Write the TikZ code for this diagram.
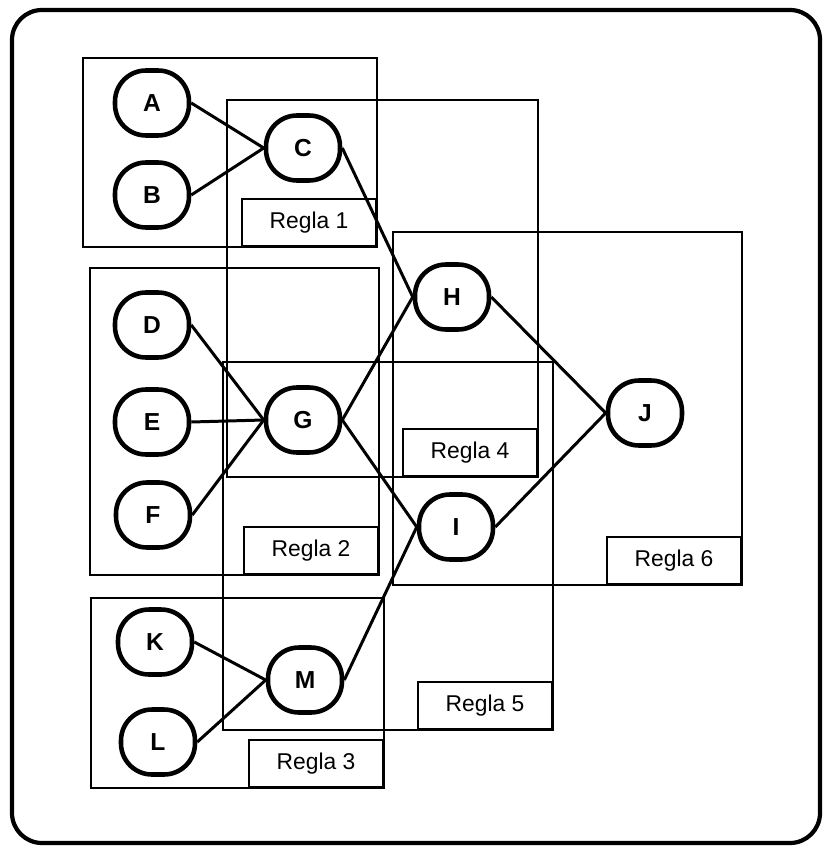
\documentclass[tikz,border=0pt]{standalone}
\usepackage{fontspec}
\setmainfont{Liberation Sans}
\usetikzlibrary{positioning}

\begin{document}
\begin{tikzpicture}[x=0.02cm, y=-0.02cm, every node/.style={font=\fontsize{13}{15}\selectfont}]
\tikzset{hecho/.style={draw, line width=2.6pt, rounded corners=0.62cm, minimum width=1.48cm, minimum height=1.3cm, inner sep=0pt, fill=white, font=\fontsize{14}{16}\selectfont\bfseries}}
\tikzset{regla/.style={draw, line width=1.1pt, minimum width=2.68cm, minimum height=0.94cm, anchor=south east, inner sep=0pt}}
\tikzset{caja/.style={draw, line width=1.1pt}}
\tikzset{arco/.style={line width=1.7pt}}
\useasboundingbox (0,0) rectangle (823,847);
\draw[line width=2.4pt, rounded corners=0.6cm] (12,10) rectangle (820,843);

\draw[caja] (83,58) rectangle (377,247);
\draw[caja] (90,268) rectangle (379,575);
\draw[caja] (91,598) rectangle (384,788);
\draw[caja] (227,100) rectangle (538,477);
\draw[caja] (223,362) rectangle (553,730);
\draw[caja] (393,232) rectangle (742,585);
\node[regla] (r1) at (377,247) {Regla 1};
\node[regla] (r2) at (379,575) {Regla 2};
\node[regla] (r3) at (384,788) {Regla 3};
\node[regla] (r4) at (538,477) {Regla 4};
\node[regla] (r5) at (553,730) {Regla 5};
\node[regla] (r6) at (742,585) {Regla 6};

\node[hecho] (a) at (152,103) {A};
\node[hecho] (b) at (152,195) {B};
\node[hecho] (c) at (303,148) {C};
\node[hecho] (d) at (152,325) {D};
\node[hecho] (e) at (152,422) {E};
\node[hecho] (f) at (153,515) {F};
\node[hecho] (g) at (303,420) {G};
\node[hecho] (h) at (452,297) {H};
\node[hecho] (i) at (456,527) {I};
\node[hecho] (j) at (645,413) {J};
\node[hecho] (k) at (155,642) {K};
\node[hecho] (l) at (158,742) {L};
\node[hecho] (m) at (305,680) {M};

\draw[arco] (a.east) -- (c.west);
\draw[arco] (b.east) -- (c.west);
\draw[arco] (c.east) -- (h.west);
\draw[arco] (d.east) -- (g.west);
\draw[arco] (e.east) -- (g.west);
\draw[arco] (f.east) -- (g.west);
\draw[arco] (g.east) -- (h.west);
\draw[arco] (g.east) -- (i.west);
\draw[arco] (h.east) -- (j.west);
\draw[arco] (i.east) -- (j.west);
\draw[arco] (k.east) -- (m.west);
\draw[arco] (l.east) -- (m.west);
\draw[arco] (m.east) -- (i.west);
\end{tikzpicture}
\end{document}
